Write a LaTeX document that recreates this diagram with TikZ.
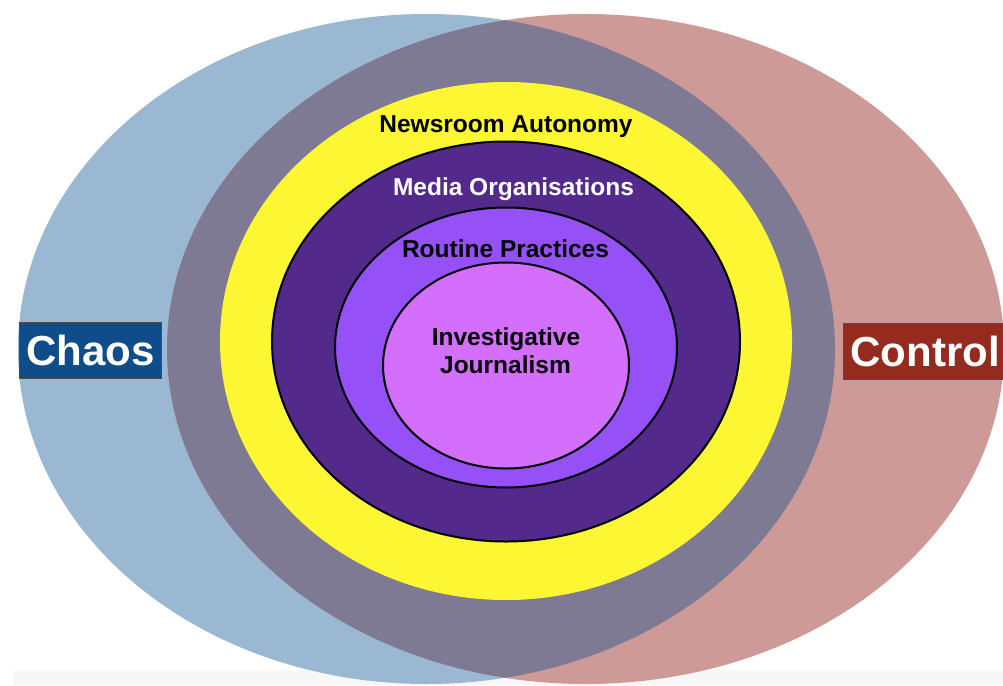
\documentclass[tikz,border=0pt]{standalone}
\usepackage{fontspec}
\setmainfont{Liberation Sans}
\definecolor{chaosbg}{HTML}{9BB8D2}
\definecolor{controlbg}{HTML}{CE9A97}
\definecolor{overlap}{HTML}{7F7A93}
\definecolor{yel}{HTML}{FDF733}
\definecolor{darkpurp}{HTML}{532A8C}
\definecolor{midpurp}{HTML}{9650F8}
\definecolor{pinkpurp}{HTML}{D46EFC}
\definecolor{chaosbox}{HTML}{0E4C8A}
\definecolor{controlbox}{HTML}{952A1F}
\definecolor{band}{HTML}{F7F7F7}
\tikzset{
  ring/.style={draw=black, line width=2pt},
  lbl/.style={font=\bfseries\fontsize{24.5}{28}\selectfont, inner sep=0pt, anchor=base},
  tagbox/.style={draw=black!70, line width=0.8pt, text=white, font=\bfseries\fontsize{42}{48}\selectfont, minimum height=56pt, inner xsep=7pt, inner ysep=0pt, anchor=west}
}
\begin{document}
\begin{tikzpicture}[x=1pt,y=-1pt]
\useasboundingbox (0,0) rectangle (1003,685);
\fill[white] (0,0) rectangle (1003,685);
\fill[band] (13,670) rectangle (1003,685);
% outer ellipses
\fill[chaosbg] (426.5,349) ellipse [x radius=408.5pt, y radius=335pt];
\fill[controlbg] (585.5,349) ellipse [x radius=418.5pt, y radius=335pt];
\begin{scope}
  \clip (426.5,349) ellipse [x radius=408.5pt, y radius=335pt];
  \fill[overlap] (585.5,349) ellipse [x radius=418.5pt, y radius=335pt];
\end{scope}
% nested ellipses
\fill[yel] (506,341) ellipse [x radius=286pt, y radius=259pt];
\filldraw[ring, fill=darkpurp] (506,341.5) ellipse [x radius=234pt, y radius=200pt];
\filldraw[ring, fill=midpurp] (506,347.5) ellipse [x radius=171pt, y radius=140pt];
\filldraw[ring, fill=pinkpurp] (506,365.5) ellipse [x radius=123pt, y radius=103pt];
% labels
\node[lbl, text=black] (newsroom) at (506,132) {Newsroom Autonomy};
\node[lbl, text=white] (media) at (513.5,195) {Media Organisations};
\node[lbl, text=black] (routine) at (505.5,257) {Routine Practices};
\node[lbl, text=black] (invest) at (506,345) {Investigative};
\node[lbl, text=black] (journ) at (505.5,373) {Journalism};
% side tags
\node[tagbox, fill=chaosbox] (chaos) at (19,350.5) {Chaos};
\node[tagbox, fill=controlbox] (control) at (843,351) {Control};
\end{tikzpicture}
\end{document}
